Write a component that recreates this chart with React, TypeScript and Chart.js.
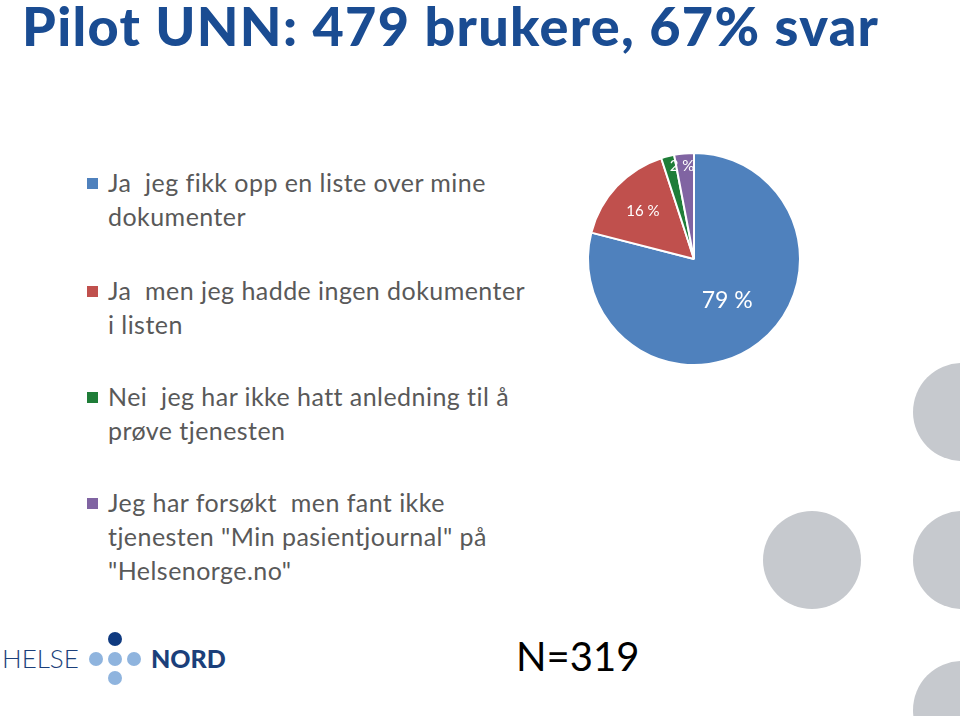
import React, { useEffect, useRef } from "react";
import { Chart, registerables } from "chart.js";

Chart.register(...registerables);

const titleText = "Pilot UNN: 479 brukere, 67% svar";
const categories = [
  "Ja  jeg fikk opp en liste over mine\ndokumenter",
  "Ja  men jeg hadde ingen dokumenter\ni listen",
  "Nei  jeg har ikke hatt anledning til å\nprøve tjenesten",
  "Jeg har forsøkt  men fant ikke\ntjenesten \"Min pasientjournal\" på\n\"Helsenorge.no\"",
];
const values = [79, 16, 2, 3];
const colors = ["#4F81BD", "#C0504D", "#1F7D38", "#8064A2"];
const nText = "N=319";

// label placement styles (fraction of radius, angle shift in degrees, font size)
const labelStyle: ({ r: number; da: number; size: number } | null)[] = [
  { r: 0.5, da: -1, size: 23 },
  { r: 0.66, da: 0, size: 15 },
  { r: 0.88, da: 7, size: 15 },
  null,
];

const FONT = "Lato, 'Open Sans', sans-serif";

const pieLabels = {
  id: "pieLabels",
  afterDatasetsDraw(chart: any) {
    const ctx = chart.ctx;
    const meta = chart.getDatasetMeta(0);
    const total = values.reduce((a, b) => a + b, 0);
    meta.data.forEach((arc: any, i: number) => {
      const st = labelStyle[i];
      if (!st) return;
      const mid = (arc.startAngle + arc.endAngle) / 2 + (st.da * Math.PI) / 180;
      const rr = arc.outerRadius * st.r;
      const x = arc.x + Math.cos(mid) * rr;
      const y = arc.y + Math.sin(mid) * rr;
      ctx.save();
      ctx.fillStyle = "#ffffff";
      ctx.font = `${st.size}px ${FONT}`;
      ctx.textAlign = "center";
      ctx.textBaseline = "middle";
      ctx.fillText(`${Math.round((values[i] / total) * 100)} %`, x, y);
      ctx.restore();
    });
  },
};

function PieChart() {
  const ref = useRef<HTMLCanvasElement>(null);
  useEffect(() => {
    if (!ref.current) return;
    const chart = new Chart(ref.current, {
      type: "pie",
      data: {
        labels: categories,
        datasets: [
          {
            data: values,
            backgroundColor: colors,
            borderColor: "#ffffff",
            borderWidth: 2,
          },
        ],
      },
      options: {
        animation: false,
        responsive: false,
        layout: { padding: 5 },
        plugins: { legend: { display: false }, tooltip: { enabled: false } },
      },
      plugins: [pieLabels],
    });
    return () => chart.destroy();
  }, []);
  return (
    <canvas
      ref={ref}
      width={224}
      height={224}
      style={{ position: "absolute", left: 582, top: 147, width: 224, height: 224 }}
    />
  );
}

const circle = (cx: number, cy: number, r: number, color: string) => (
  <div
    style={{
      position: "absolute",
      left: cx - r,
      top: cy - r,
      width: r * 2,
      height: r * 2,
      borderRadius: "50%",
      background: color,
    }}
  />
);

export default function App() {
  const legendTops = [165, 273, 379, 485];
  return (
    <div
      style={{
        position: "fixed",
        left: 0,
        top: 0,
        width: 960,
        height: 716,
        overflow: "hidden",
        background: "#ffffff",
        fontFamily: FONT,
      }}
    >
      <div
        style={{
          position: "absolute",
          left: 22,
          top: 0,
          fontSize: 54,
          lineHeight: "52px",
          fontWeight: 900,
          letterSpacing: 1.3,
          color: "#1A4C92",
          whiteSpace: "nowrap",
        }}
      >
        {titleText}
      </div>

      {categories.map((c, i) => (
        <div key={i} style={{ position: "absolute", left: 87, top: legendTops[i] }}>
          <div
            style={{
              position: "absolute",
              left: 0,
              top: 13,
              width: 11,
              height: 11,
              background: colors[i],
            }}
          />
          <div
            style={{
              position: "absolute",
              left: 21,
              top: 0,
              fontSize: 25,
              letterSpacing: 0.45,
              lineHeight: "34px",
              color: "#595959",
              whiteSpace: "pre",
            }}
          >
            {c}
          </div>
        </div>
      ))}

      <PieChart />

      {circle(962, 412, 49, "#C6C9CE")}
      {circle(812, 560, 49, "#C6C9CE")}
      {circle(962, 560, 49, "#C6C9CE")}
      {circle(962, 710, 49, "#C6C9CE")}

      {/* logo */}
      <div
        style={{
          position: "absolute",
          left: 2,
          top: 642,
          fontSize: 26,
          fontWeight: 300,
          letterSpacing: 0,
          color: "#1B3F7A",
          lineHeight: "32px",
        }}
      >
        HELSE
      </div>
      {circle(96, 659, 7, "#8FB4DE")}
      {circle(115, 659, 7, "#8FB4DE")}
      {circle(134, 659, 7, "#8FB4DE")}
      {circle(115, 678, 7, "#8FB4DE")}
      {circle(115, 639, 7, "#0F3A80")}
      <div
        style={{
          position: "absolute",
          left: 151,
          top: 642,
          fontSize: 25,
          fontWeight: 900,
          color: "#1B3F7A",
          lineHeight: "32px",
        }}
      >
        NORD
      </div>

      <div
        style={{
          position: "absolute",
          left: 516,
          top: 631,
          fontSize: 40,
          color: "#000000",
          lineHeight: "50px",
        }}
      >
        {nText}
      </div>
    </div>
  );
}
